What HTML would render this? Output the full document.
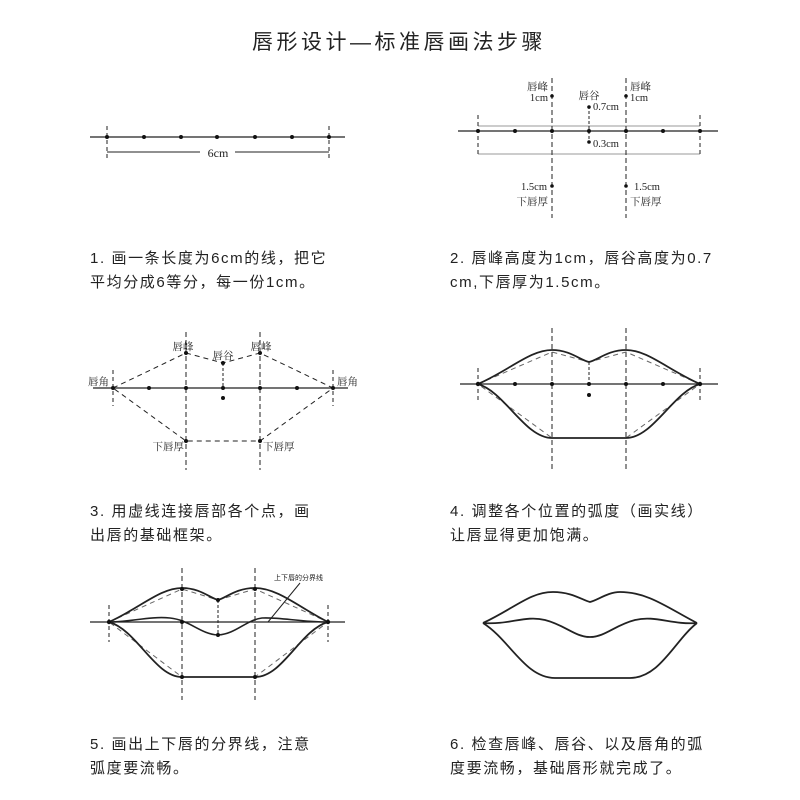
<!DOCTYPE html>
<html><head><meta charset="utf-8"><style>
body{margin:0;background:#fff}
svg{display:block}
text{font-family:"Liberation Serif","Noto Serif CJK SC",serif;fill:#222}
.cap{font-family:"Liberation Sans","Noto Sans CJK SC",sans-serif;font-size:15px;fill:#222;letter-spacing:1.6px}
.s{font-size:10.5px}
</style></head><body>
<svg width="800" height="800" viewBox="0 0 800 800" xmlns="http://www.w3.org/2000/svg">
<text x="399" y="49" text-anchor="middle" style="font-family:'Liberation Sans','Noto Sans CJK SC',sans-serif;font-size:21px;letter-spacing:3.5px">唇形设计—标准唇画法步骤</text>

<!-- Panel 1 -->
<g stroke="#222" fill="none">
<line x1="90" y1="137" x2="345" y2="137" stroke-width="1.2"/>
<line x1="107" y1="126" x2="107" y2="160" stroke-dasharray="4,3"/>
<line x1="329" y1="126" x2="329" y2="160" stroke-dasharray="4,3"/>
<line x1="107" y1="152" x2="200" y2="152"/><line x1="235" y1="152" x2="329" y2="152"/>
</g>
<g fill="#111"><circle cx="107" cy="137" r="2"/><circle cx="144" cy="137" r="2"/><circle cx="181" cy="137" r="2"/><circle cx="217" cy="137" r="2"/><circle cx="255" cy="137" r="2"/><circle cx="292" cy="137" r="2"/><circle cx="329" cy="137" r="2"/></g>
<text x="218" y="157" text-anchor="middle" font-size="12">6cm</text>

<!-- Panel 2 -->
<g stroke="#222" fill="none">
<line x1="458" y1="131" x2="718" y2="131" stroke-width="1.2"/>
<line x1="478" y1="126" x2="700" y2="126" stroke="#999"/>
<line x1="478" y1="154" x2="700" y2="154" stroke="#999"/>
<line x1="478" y1="115" x2="478" y2="154" stroke-dasharray="4,3"/>
<line x1="700" y1="115" x2="700" y2="154" stroke-dasharray="4,3"/>
<line x1="552" y1="78" x2="552" y2="218" stroke-dasharray="5,3"/>
<line x1="626" y1="78" x2="626" y2="218" stroke-dasharray="5,3"/>
<line x1="589" y1="106" x2="589" y2="143" stroke-dasharray="3,2"/>
</g>
<g fill="#111"><circle cx="478" cy="131" r="2"/><circle cx="515" cy="131" r="2"/><circle cx="552" cy="131" r="2"/><circle cx="589" cy="131" r="2"/><circle cx="626" cy="131" r="2"/><circle cx="663" cy="131" r="2"/><circle cx="700" cy="131" r="2"/>
<circle cx="552" cy="96" r="1.8"/><circle cx="626" cy="96" r="1.8"/><circle cx="589" cy="107" r="1.8"/><circle cx="589" cy="142" r="1.8"/><circle cx="552" cy="186" r="1.8"/><circle cx="626" cy="186" r="1.8"/></g>
<text x="548" y="90" text-anchor="end" class="s">唇峰</text><text x="548" y="101" text-anchor="end" class="s">1cm</text>
<text x="630" y="90" class="s">唇峰</text><text x="630" y="101" class="s">1cm</text>
<text x="589" y="99" text-anchor="middle" class="s">唇谷</text>
<text x="593" y="110" class="s">0.7cm</text>
<text x="593" y="147" class="s">0.3cm</text>
<text x="547" y="190" text-anchor="end" class="s">1.5cm</text><text x="548" y="205" text-anchor="end" class="s">下唇厚</text>
<text x="634" y="190" class="s">1.5cm</text><text x="630" y="205" class="s">下唇厚</text>
<text x="90" y="263" class="cap">1. 画一条长度为6cm的线，把它</text>
<text x="90" y="287" class="cap">平均分成6等分，每一份1cm。</text>
<text x="450" y="263" class="cap">2. 唇峰高度为1cm，唇谷高度为0.7</text>
<text x="450" y="287" class="cap">cm,下唇厚为1.5cm。</text>

<!-- Panel 3 -->
<g stroke="#222" fill="none">
<line x1="93" y1="388" x2="348" y2="388" stroke-width="1.2"/>
<line x1="113" y1="370" x2="113" y2="406" stroke-dasharray="4,3"/>
<line x1="333" y1="370" x2="333" y2="406" stroke-dasharray="4,3"/>
<line x1="186" y1="332" x2="186" y2="470" stroke-dasharray="5,3"/>
<line x1="260" y1="332" x2="260" y2="470" stroke-dasharray="5,3"/>
<line x1="223" y1="363" x2="223" y2="388" stroke-dasharray="3,2"/>
<polyline points="113,388 186,353 223,363 260,353 333,388 260,441 186,441 113,388" stroke-dasharray="5,4"/>
</g>
<g fill="#111"><circle cx="113" cy="388" r="2"/><circle cx="149" cy="388" r="2"/><circle cx="186" cy="388" r="2"/><circle cx="223" cy="388" r="2"/><circle cx="260" cy="388" r="2"/><circle cx="297" cy="388" r="2"/><circle cx="333" cy="388" r="2"/>
<circle cx="186" cy="353" r="2"/><circle cx="260" cy="353" r="2"/><circle cx="223" cy="363" r="2"/><circle cx="223" cy="398" r="2"/><circle cx="186" cy="441" r="2"/><circle cx="260" cy="441" r="2"/></g>
<text x="183" y="350" text-anchor="middle" class="s">唇峰</text>
<text x="261" y="350" text-anchor="middle" class="s">唇峰</text>
<text x="223" y="359" text-anchor="middle" class="s">唇谷</text>
<text x="88" y="385" class="s">唇角</text>
<text x="337" y="385" class="s">唇角</text>
<text x="184" y="450" text-anchor="end" class="s">下唇厚</text>
<text x="263" y="450" class="s">下唇厚</text>

<!-- Panel 4 -->
<g stroke="#222" fill="none">
<line x1="460" y1="384" x2="718" y2="384" stroke-width="1.2"/>
<line x1="478" y1="368" x2="478" y2="400" stroke-dasharray="4,3"/>
<line x1="700" y1="368" x2="700" y2="400" stroke-dasharray="4,3"/>
<line x1="552" y1="328" x2="552" y2="470" stroke-dasharray="5,3"/>
<line x1="626" y1="328" x2="626" y2="470" stroke-dasharray="5,3"/>
<line x1="589" y1="362" x2="589" y2="384" stroke-dasharray="3,2"/>
<polyline points="478,384 552,352 589,362 626,352 700,384 626,438 552,438 478,384" stroke-dasharray="5,4" stroke="#666"/>
<path d="M478,384 C510,370 530,350 552,350 C570,350 580,360 589,362 C598,360 608,350 626,350 C648,350 668,370 700,384" stroke-width="1.8"/>
<path d="M478,384 C505,392 525,438 552,438 L626,438 C653,438 673,392 700,384" stroke-width="1.8"/>
</g>
<g fill="#111"><circle cx="478" cy="384" r="2.2"/><circle cx="515" cy="384" r="2"/><circle cx="552" cy="384" r="2"/><circle cx="589" cy="384" r="2"/><circle cx="626" cy="384" r="2"/><circle cx="663" cy="384" r="2"/><circle cx="700" cy="384" r="2.2"/><circle cx="589" cy="395" r="2"/></g>
<text x="90" y="516" class="cap">3. 用虚线连接唇部各个点，画</text>
<text x="90" y="540" class="cap">出唇的基础框架。</text>
<text x="450" y="516" class="cap">4. 调整各个位置的弧度（画实线）</text>
<text x="450" y="540" class="cap">让唇显得更加饱满。</text>

<!-- Panel 5 -->
<g stroke="#222" fill="none">
<line x1="90" y1="622" x2="345" y2="622" stroke-width="1.2"/>
<line x1="109" y1="605" x2="109" y2="642" stroke-dasharray="4,3"/>
<line x1="328" y1="605" x2="328" y2="642" stroke-dasharray="4,3"/>
<line x1="182" y1="568" x2="182" y2="700" stroke-dasharray="5,3"/>
<line x1="255" y1="568" x2="255" y2="700" stroke-dasharray="5,3"/>
<line x1="218" y1="600" x2="218" y2="636" stroke-dasharray="3,2"/>
<polyline points="109,622 182,589 218,600 255,589 328,622 255,677 182,677 109,622" stroke-dasharray="5,4" stroke="#666"/>
<path d="M109,622 C140,608 160,588 182,588 C200,588 210,598 218,600 C226,598 236,588 255,588 C278,588 300,608 328,622" stroke-width="1.8"/>
<path d="M109,622 C137,630 155,677 182,677 L255,677 C283,677 300,630 328,622" stroke-width="1.8"/>
<path d="M109,622 C130,622 150,616 170,618 C190,620 200,634 218,635 C236,634 246,620 262,618 C280,617 300,622 328,622" stroke-width="1.6"/>
<line x1="300" y1="583" x2="268" y2="622"/>
</g>
<g fill="#111"><circle cx="109" cy="622" r="2.2"/><circle cx="328" cy="622" r="2.2"/><circle cx="182" cy="589" r="2"/><circle cx="255" cy="589" r="2"/><circle cx="218" cy="600" r="2"/><circle cx="218" cy="635" r="2"/><circle cx="182" cy="622" r="2"/><circle cx="182" cy="677" r="2"/><circle cx="255" cy="677" r="2"/></g>
<text x="274" y="580" style="font-family:'Liberation Sans','Noto Sans CJK SC',sans-serif;font-size:7px">上下唇的分界线</text>

<!-- Panel 6 -->
<g stroke="#222" fill="none" stroke-width="1.8">
<path d="M483,623 C515,608 530,592 553,592 C572,592 582,600 590,602 C598,600 608,592 620,592 C648,592 668,608 697,623"/>
<path d="M483,623 C510,625 525,615 545,620 C565,625 575,637 590,637 C605,637 615,625 635,620 C655,615 672,625 697,623"/>
<path d="M483,623 C510,640 525,678 555,678 L630,678 C660,678 675,640 697,623"/>
</g>
<text x="90" y="749" class="cap">5. 画出上下唇的分界线，注意</text>
<text x="90" y="773" class="cap">弧度要流畅。</text>
<text x="450" y="749" class="cap">6. 检查唇峰、唇谷、以及唇角的弧</text>
<text x="450" y="773" class="cap">度要流畅，基础唇形就完成了。</text>
</svg>
</body></html>
